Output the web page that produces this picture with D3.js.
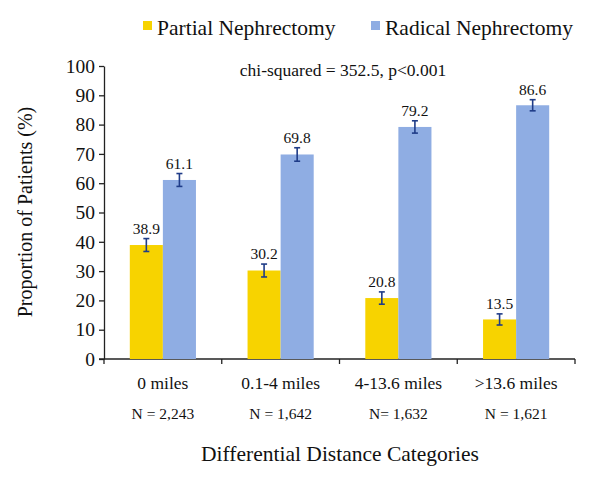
<!DOCTYPE html>
<html><head><meta charset="utf-8">
<script src="https://cdn.jsdelivr.net/npm/d3@7"></script>
<style>body{margin:0;background:#fff}svg{display:block}text{font-family:"Liberation Serif","Times New Roman",serif;fill:#111}</style>
</head><body>
<svg id="c" width="600" height="477"></svg>
<script>
const categories = ["0 miles", "0.1-4 miles", "4-13.6 miles", ">13.6 miles"];
const sampleSizes = ["N = 2,243", "N = 1,642", "N= 1,632", "N = 1,621"];
const seriesNames = ["Partial Nephrectomy", "Radical Nephrectomy"];
const partial = [38.9, 30.2, 20.8, 13.5];
const radical = [61.1, 69.8, 79.2, 86.6];
const partialErr = [2.2, 2.2, 2.1, 1.9];
const radicalErr = [2.2, 2.3, 2.1, 1.9];
const yTicks = [0, 10, 20, 30, 40, 50, 60, 70, 80, 90, 100];
const colors = ["#F7D300", "#8FADE3"];

const svg = d3.select("#c");
const L = 104, R = 575, T = 66, B = 359;
const x = d3.scaleBand().domain(categories).range([L, R]);
const xs = d3.scaleBand().domain(seriesNames).range([0, x.bandwidth()]).paddingOuter(0.78).paddingInner(0);
const y = d3.scaleLinear().domain([0, 100]).range([B, T]);

// Y axis
const ya = svg.append("g").attr("transform", `translate(${L},0)`)
  .call(d3.axisLeft(y).tickValues(yTicks).tickSize(5).tickSizeOuter(0).tickPadding(4));
ya.select(".domain").attr("stroke", "#222").attr("stroke-width", 1.3);
ya.selectAll(".tick line").attr("stroke", "#222").attr("stroke-width", 1.3);
ya.selectAll("text").style("font-size", "19.5px").attr("fill", "#111");

// X axis
const xa = svg.append("g").attr("transform", `translate(0,${B})`);
xa.append("line").attr("x1", L - 5).attr("x2", R).attr("y1", 0).attr("y2", 0).attr("stroke", "#222").attr("stroke-width", 1.3);
const bounds = categories.map(c => x(c) + x.bandwidth());
xa.selectAll("line.tk").data([L].concat(bounds)).enter().append("line")
  .attr("x1", d => d).attr("x2", d => d).attr("y1", 0).attr("y2", 5).attr("stroke", "#222").attr("stroke-width", 1.3);
xa.selectAll("text.cat").data(categories).enter().append("text")
  .attr("x", d => x(d) + x.bandwidth() / 2).attr("y", 30).attr("text-anchor", "middle")
  .style("font-size", "17.5px").text(d => d);
xa.selectAll("text.n").data(sampleSizes).enter().append("text")
  .attr("x", (d, i) => x(categories[i]) + x.bandwidth() / 2).attr("y", 60).attr("text-anchor", "middle")
  .style("font-size", "15.5px").text(d => d);

// Bars
const data = categories.map((c, i) => ({c, vals: [
  {s: seriesNames[0], v: partial[i], e: partialErr[i], col: colors[0]},
  {s: seriesNames[1], v: radical[i], e: radicalErr[i], col: colors[1]}]}));
const g = svg.selectAll("g.cat").data(data).enter().append("g").attr("transform", d => `translate(${x(d.c)},0)`);
const b = g.selectAll("g.b").data(d => d.vals).enter().append("g");
b.append("rect").attr("x", d => xs(d.s)).attr("width", xs.bandwidth())
  .attr("y", d => y(d.v)).attr("height", d => B - y(d.v)).attr("fill", d => d.col);
const cx = d => xs(d.s) + xs.bandwidth() / 2;
const ec = "#1F3C88";
b.append("line").attr("x1", cx).attr("x2", cx).attr("y1", d => y(d.v + d.e)).attr("y2", d => y(d.v - d.e)).attr("stroke", ec).attr("stroke-width", 1.6);
b.append("line").attr("x1", d => cx(d) - 3).attr("x2", d => cx(d) + 3).attr("y1", d => y(d.v + d.e)).attr("y2", d => y(d.v + d.e)).attr("stroke", ec).attr("stroke-width", 1.6);
b.append("line").attr("x1", d => cx(d) - 3).attr("x2", d => cx(d) + 3).attr("y1", d => y(d.v - d.e)).attr("y2", d => y(d.v - d.e)).attr("stroke", ec).attr("stroke-width", 1.6);
b.append("text").attr("x", cx).attr("y", d => y(d.v + d.e) - 5).attr("text-anchor", "middle")
  .style("font-size", "15.5px").text(d => d.v.toFixed(1));

// Annotation
svg.append("text").attr("x", 343).attr("y", 76).attr("text-anchor", "middle").style("font-size", "17.5px")
  .text("chi-squared = 352.5, p<0.001");

// Legend
const leg = svg.append("g");
const lx = [143, 371];
seriesNames.forEach((s, i) => {
  leg.append("rect").attr("x", lx[i]).attr("y", 21).attr("width", 9).attr("height", 9).attr("fill", colors[i]);
  leg.append("text").attr("x", lx[i] + 14).attr("y", 35).style("font-size", "21.5px").text(s);
});

// Axis titles
svg.append("text").attr("x", 340).attr("y", 461).attr("text-anchor", "middle").style("font-size", "21.5px")
  .text("Differential Distance Categories");
svg.append("text").attr("transform", "translate(32,212) rotate(-90)").attr("text-anchor", "middle").style("font-size", "20px")
  .text("Proportion of Patients (%)");
</script>
</body></html>
